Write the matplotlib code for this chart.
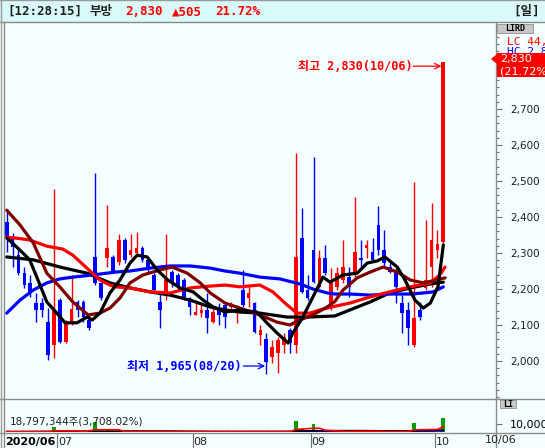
import matplotlib
matplotlib.use('Agg')
import matplotlib.pyplot as plt
import numpy as np
from matplotlib.patches import Rectangle, Polygon
from matplotlib.lines import Line2D
from matplotlib.ticker import FuncFormatter

W, H = 545, 448

# ---------------- data ----------------
opens = [2386, 2342, 2294, 2244, 2217, 2161, 2161, 2108, 2044, 2169,
         2053, 2105, 2164, 2164, 2114, 2289, 2217, 2286, 2289, 2275,
         2336, 2294, 2300, 2314, 2281, 2239, 2164, 2192, 2247, 2239,
         2225, 2175, 2128, 2133, 2142, 2108, 2142, 2156, 2150, 2133,
         2197, 2175, 2161, 2072, 2061, 2011, 2022, 2044, 2086, 2044,
         2342, 2197, 2308, 2206, 2286, 2150, 2206, 2225, 2233, 2244,
         2286, 2314, 2303, 2378, 2308, 2261, 2247, 2161, 2142, 2044,
         2142, 2203, 2261, 2308, 2330]
highs = [2414, 2356, 2317, 2261, 2239, 2189, 2175, 2147, 2478, 2175,
         2114, 2239, 2169, 2169, 2133, 2522, 2219, 2433, 2294, 2353,
         2342, 2353, 2358, 2319, 2286, 2244, 2189, 2353, 2253, 2244,
         2231, 2178, 2169, 2161, 2189, 2147, 2161, 2161, 2164, 2156,
         2253, 2211, 2164, 2100, 2078, 2058, 2067, 2078, 2092, 2578,
         2425, 2239, 2567, 2308, 2322, 2258, 2261, 2336, 2261, 2456,
         2336, 2336, 2342, 2431, 2364, 2275, 2258, 2183, 2164, 2497,
         2164, 2392, 2439, 2364, 2830]
lows = [2303, 2261, 2239, 2203, 2178, 2108, 2122, 2003, 2008, 2050,
        2050, 2100, 2122, 2108, 2086, 2211, 2169, 2261, 2244, 2267,
        2272, 2289, 2294, 2275, 2247, 2192, 2092, 2169, 2206, 2197,
        2169, 2128, 2128, 2122, 2078, 2106, 2100, 2092, 2136, 2106,
        2150, 2150, 2078, 2044, 1965, 1994, 1967, 2022, 2022, 2022,
        2189, 2169, 2217, 2203, 2239, 2142, 2197, 2217, 2178, 2233,
        2261, 2286, 2275, 2294, 2261, 2244, 2161, 2078, 2044, 2039,
        2114, 2197, 2206, 2286, 2320]
closes = [2347, 2317, 2244, 2211, 2189, 2142, 2142, 2017, 2142, 2053,
          2108, 2144, 2142, 2122, 2092, 2217, 2175, 2314, 2247, 2336,
          2281, 2308, 2314, 2281, 2253, 2197, 2142, 2231, 2217, 2206,
          2178, 2150, 2136, 2142, 2119, 2136, 2128, 2122, 2156, 2142,
          2156, 2189, 2081, 2086, 1997, 2039, 2058, 2067, 2050, 2289,
          2192, 2175, 2219, 2286, 2244, 2219, 2244, 2261, 2206, 2303,
          2281, 2322, 2281, 2308, 2272, 2247, 2206, 2133, 2092, 2119,
          2122, 2225, 2336, 2325, 2830]
# volume in millions of shares
volumes = [0.4, 0.3, 0.4, 0.3, 0.3, 0.5, 0.3, 0.8, 6.3, 0.9,
           0.5, 0.6, 0.3, 0.3, 0.4, 13.0, 1.2, 1.5, 0.6, 0.7,
           0.5, 0.4, 0.4, 0.3, 0.3, 0.4, 0.5, 0.8, 0.3, 0.3,
           0.3, 0.4, 0.3, 0.3, 0.5, 0.3, 0.3, 0.3, 0.2, 0.3,
           0.6, 0.4, 0.5, 0.4, 0.7, 0.5, 0.6, 0.4, 0.5, 14.0,
           3.5, 1.0, 10.0, 2.0, 0.8, 0.7, 0.5, 0.6, 0.5, 2.6,
           0.6, 0.5, 0.5, 0.8, 0.6, 0.4, 0.5, 0.6, 0.7, 11.8,
           1.5, 1.8, 4.0, 0.5, 18.8]

ma5_x = [0, 2.25, 3.9, 5.1, 6.8, 8.5, 9.9, 11.9, 13.6, 14.5, 15.8, 17.5, 19.2, 20.9,
         22.1, 23.8, 25.5, 27.3, 29.4, 31.6, 33.3, 35, 37, 39.5, 42.4, 44.1, 45.8,
         47.7, 48.5, 50.2, 51.9, 53.6, 54.8, 57, 59.4, 61.1, 62.8, 64.1, 66.2, 67.5,
         69.2, 70.6, 71.8, 73.1, 74]
ma5_y = [2342, 2308, 2281, 2233, 2164, 2133, 2106, 2106, 2122, 2114, 2133, 2189, 2225, 2272,
         2294, 2289, 2253, 2225, 2203, 2192, 2169, 2150, 2136, 2142, 2136, 2106, 2078,
         2050, 2078, 2122, 2178, 2233, 2219, 2239, 2244, 2272, 2278, 2289, 2261, 2225,
         2169, 2147, 2161, 2206, 2322]
ma10_x = [0, 2.25, 4.5, 6.8, 9, 11.2, 13.8, 15.8, 17.5, 19.2, 20.9, 23.1, 26, 28, 30.6,
          32.8, 34.5, 37, 39.5, 42.9, 45.8, 48, 49.7, 51.9, 54.3, 55.6, 57, 59.4, 61.6,
          63.8, 66.2, 68.4, 70.6, 72.9, 74.3]
ma10_y = [2419, 2378, 2328, 2244, 2206, 2164, 2128, 2133, 2147, 2175, 2217, 2239, 2253, 2261, 2244,
          2217, 2189, 2161, 2147, 2128, 2108, 2100, 2114, 2128, 2150, 2165, 2197, 2231, 2247,
          2261, 2247, 2225, 2217, 2225, 2231]
ma20_x = [0, 2.25, 3.9, 6.8, 9.5, 11.2, 13.6, 15.8, 17.5, 18.4, 20.9, 24.3, 27.7, 31.1, 34.5,
          37, 39.5, 42.9, 45.1, 47.5, 49.2, 51.4, 53.1, 55.6, 58.2, 61.6, 64.9, 68.4, 71.8,
          73.4, 74.3]
ma20_y = [2344, 2340, 2336, 2319, 2311, 2294, 2258, 2225, 2211, 2206, 2203, 2192, 2189, 2203, 2208,
          2211, 2206, 2211, 2192, 2156, 2133, 2133, 2142, 2152, 2161, 2178, 2192, 2206, 2217,
          2239, 2261]
ma60_x = [0, 2.25, 4.5, 6.8, 9, 11.2, 14.6, 17, 18.4, 20.9, 24.3, 27.7, 31.1, 34.5, 37, 39.5,
          42.9, 46.3, 49.7, 51.9, 54.3, 55.6, 58.2, 61.6, 64.9, 68.4, 70.6, 72.3, 74]
ma60_y = [2133, 2169, 2197, 2217, 2228, 2233, 2239, 2244, 2247, 2250, 2258, 2264, 2264, 2258, 2250, 2244,
          2233, 2228, 2214, 2200, 2189, 2186, 2186, 2183, 2186, 2186, 2189, 2192, 2206]
ma120_x = [0, 4.5, 9, 13.6, 17.5, 20.9, 24.3, 27.7, 31.1, 34.5, 37, 39.5, 42.9, 47.5, 50.9,
           55.6, 58.2, 61.6, 64.9, 68.4, 71.8, 74]
ma120_y = [2289, 2281, 2261, 2244, 2217, 2203, 2192, 2183, 2169, 2150, 2142, 2136, 2133, 2122, 2122,
           2125, 2142, 2164, 2189, 2203, 2214, 2219]

vma5_x = [0, 7, 8, 12, 13, 15, 19, 20, 48, 49, 52, 53, 54, 58, 59, 63, 64, 68, 69, 73, 74]
vma5_y = [0.4, 0.5, 1.6, 1.6, 0.4, 3.0, 3.0, 0.5, 0.5, 3.3, 5.0, 5.0, 2.3, 0.5, 1.0, 1.0, 0.5, 0.5, 2.8, 3.4, 6.9]
vma20_x = [0, 10, 15, 27, 35, 48, 49, 52, 60, 68, 69, 74]
vma20_y = [0.4, 0.7, 1.2, 1.2, 0.5, 0.5, 1.2, 1.7, 1.8, 1.2, 1.5, 2.5]
vma60_x = [0, 30, 48, 52, 74]
vma60_y = [0.4, 0.5, 0.6, 0.9, 1.3]
vma120_x = [0, 74]
vma120_y = [0.3, 0.6]

month_starts = [9, 32, 52, 73]
month_labels = ['07', '08', '09', '10']
first_label = '2020/06'
last_date = '10/06'

hi_idx, hi_price, hi_text = 74, 2830, '최고 2,830(10/06)'
lo_idx, lo_price, lo_text = 44, 1965, '최저 1,965(08/20)'

yticks_major = [2000, 2100, 2200, 2300, 2400, 2500, 2600, 2700]

# ---------------- helpers ----------------
def box(x0, y0, x1, y1):
    return [x0 / W, 1 - y1 / H, (x1 - x0) / W, (y1 - y0) / H]

def fx(x):
    return x / W

def fy(y):
    return 1 - y / H

MONO = ['DejaVu Sans Mono', 'Noto Sans CJK KR']
RED = '#ff0000'
BLUE = '#0000ff'
BG = '#f5fefe'

fig = plt.figure(figsize=(W / 100, H / 100), dpi=100, facecolor=BG)

n = len(opens)
idx = np.arange(n)
XL = (-0.288, 82.93)

# ---------------- main price panel ----------------
ax = fig.add_axes(box(5, 23, 496, 398))
ax.set_facecolor(BG)
ax.set_xlim(*XL)
ax.set_ylim(1897.2, 2938.9)
for s in ax.spines.values():
    s.set_visible(False)
ax.set_xticks([])

o = np.array(opens); c = np.array(closes); h = np.array(highs); l = np.array(lows)
cols = np.where(c >= o, RED, BLUE)
ax.vlines(idx, l, h, colors=cols, linewidth=1.0, zorder=2)
bottoms = np.minimum(o, c)
heights = np.maximum(np.abs(c - o), 3)
ax.bar(idx, heights, bottom=bottoms, width=0.64, color=cols, linewidth=0, zorder=3)

ax.plot(ma120_x, ma120_y, color='black', lw=2.3, zorder=4, solid_capstyle='round')
ax.plot(ma60_x, ma60_y, color=BLUE, lw=2.3, zorder=4, solid_capstyle='round')
ax.plot(ma20_x, ma20_y, color=RED, lw=2.3, zorder=4, solid_capstyle='round')
ax.plot(ma10_x, ma10_y, color='#800000', lw=2.3, zorder=5, solid_capstyle='round')
ax.plot(ma5_x, ma5_y, color='black', lw=2.3, zorder=6, solid_capstyle='round')

ax.yaxis.tick_right()
ax.set_yticks(yticks_major)
ax.set_yticks(np.arange(1900, 2940, 20), minor=True)
ax.yaxis.set_major_formatter(FuncFormatter(lambda v, _: f'{int(v):,}'))
ax.tick_params(axis='y', which='major', length=4, width=0.8, color='#707070',
               labelsize=8, pad=6, labelcolor='#202020')
ax.tick_params(axis='y', which='minor', length=2, width=0.8, color='#707070')
for t in ax.get_yticklabels():
    t.set_family('DejaVu Sans')
    t.set_fontsize(7.5)

# annotations
ya = hi_price - 11
ax.text(hi_idx - 5.2, ya, hi_text, color=RED, fontsize=8.6, fontweight='bold',
        family=MONO, ha='right', va='center', zorder=8)
ax.annotate('', xy=(hi_idx - 0.3, ya), xytext=(hi_idx - 5.1, ya),
            arrowprops=dict(arrowstyle='->', color=RED, lw=0.9, shrinkA=0, shrinkB=0), zorder=8)
yl = lo_price + 21
ax.text(lo_idx - 4.1, yl, lo_text, color=BLUE, fontsize=8.6, fontweight='bold',
        family=MONO, ha='right', va='center', zorder=8)
ax.annotate('', xy=(lo_idx - 0.2, yl), xytext=(lo_idx - 3.9, yl),
            arrowprops=dict(arrowstyle='->', color=BLUE, lw=0.9, shrinkA=0, shrinkB=0), zorder=8)

# ---------------- volume panel ----------------
vx = fig.add_axes(box(5, 399, 496, 432))
vx.set_facecolor(BG)
vx.set_xlim(*XL)
vx.set_ylim(0, 43.4)
for s in vx.spines.values():
    s.set_visible(False)
vx.set_xticks([])
vx.bar(idx, volumes, width=0.64, color='#00a000', linewidth=0, zorder=3)
vx.plot(vma120_x, vma120_y, color='#00a000', lw=1.2, ls=(0, (2, 2)), zorder=4)
vx.plot(vma60_x, vma60_y, color=BLUE, lw=1.2, zorder=4)
vx.plot(vma20_x, vma20_y, color='black', lw=1.2, zorder=4)
vx.plot(vma5_x, vma5_y, color=RED, lw=1.2, zorder=5)
vx.yaxis.tick_right()
vx.set_yticks([10])
vx.set_yticklabels(['10,000만'])
vx.tick_params(axis='y', length=4, width=0.8, color='#707070', labelsize=8, pad=6)
for t in vx.get_yticklabels():
    t.set_family(['DejaVu Sans', 'Noto Sans CJK KR'])
vx.text(0.01, 0.16, '18,797,344주(3,708.02%)', transform=vx.transAxes, fontsize=7.5,
        family=['DejaVu Sans', 'Noto Sans CJK KR'], color='#202020', va='bottom', zorder=6)

# ---------------- date strip ----------------
dx = fig.add_axes(box(5, 433, 496, 448))
dx.set_facecolor(BG)
dx.set_xlim(*XL)
dx.set_ylim(0, 1)
dx.axis('off')
for m, lab in zip(month_starts, month_labels):
    dx.axvline(m - 0.45, color='#707070', lw=0.8)
    dx.text(m - 0.3, 0.42, lab, fontsize=8, family='DejaVu Sans', va='center', ha='left', color='#202020')
dx.text(0.0, 0.42, first_label, fontsize=8, fontweight='bold', family='DejaVu Sans',
        va='center', ha='left', color='black', transform=dx.transAxes)
fig.text(fx(485), fy(440), last_date, fontsize=8, family='DejaVu Sans', va='center', color='#202020')

# ---------------- frame ----------------
fig.patches.append(Rectangle((0, fy(22)), 1, 22 / H, transform=fig.transFigure,
                             facecolor='#dafafa', edgecolor='none', zorder=1))
def hline(y, x0=0, x1=W, c='#8a8a8a', lw=1.0):
    fig.lines.append(Line2D([fx(x0), fx(x1)], [fy(y), fy(y)], transform=fig.transFigure, color=c, lw=lw, zorder=2))
def vline(x, y0=0, y1=H, c='#8a8a8a', lw=1.0):
    fig.lines.append(Line2D([fx(x), fx(x)], [fy(y0), fy(y1)], transform=fig.transFigure, color=c, lw=lw, zorder=2))
hline(0.5, c='#9a9a9a')
hline(22)
hline(398.5)
hline(432.5)
vline(0.5, 0, H, c='#9a9a9a')
vline(4, 22, H)
vline(496, 22, H)

# title texts
ty = 11.5
fig.text(fx(7), fy(ty), '[12:28:15]', family=MONO, fontsize=9, fontweight='bold', color='#202020', va='center')
fig.text(fx(90), fy(ty), '부방', family=MONO, fontsize=9, fontweight='bold', color='#202020', va='center')
fig.text(fx(125), fy(ty), '2,830', family=MONO, fontsize=9, fontweight='bold', color=RED, va='center')
fig.text(fx(172), fy(ty), '▲505', family=MONO, fontsize=9, fontweight='bold', color=RED, va='center')
fig.text(fx(215), fy(ty), '21.72%', family=MONO, fontsize=9, fontweight='bold', color=RED, va='center')
fig.text(fx(540), fy(ty), '[일]', family=MONO, fontsize=9, fontweight='bold', color='#202020', va='center', ha='right')

# right side widgets
fig.patches.append(Rectangle((fx(497), fy(33)), 36 / W, 9 / H, transform=fig.transFigure,
                             facecolor='#c8c8c8', edgecolor='#909090', lw=0.6, zorder=3))
fig.text(fx(515), fy(28.5), 'LIRD', family='DejaVu Sans Mono', fontsize=6, fontweight='bold',
         color='black', va='center', ha='center', zorder=4)
fig.text(fx(507), fy(42), 'LC 44,', family='DejaVu Sans Mono', fontsize=8, color=RED, va='center', zorder=3)
fig.text(fx(507), fy(52), 'HC 2,8', family='DejaVu Sans Mono', fontsize=8, color=BLUE, va='center', zorder=3)
fig.patches.append(Rectangle((fx(497), fy(77)), 48 / W, 24 / H, transform=fig.transFigure,
                             facecolor=RED, edgecolor='none', zorder=5))
fig.patches.append(Polygon([[fx(491), fy(59)], [fx(497), fy(54)], [fx(497), fy(64)]],
                           closed=True, transform=fig.transFigure, facecolor=RED, edgecolor='none', zorder=5))
fig.text(fx(500), fy(59), '2,830', family='DejaVu Sans', fontsize=8, color='white', va='center', zorder=6)
fig.text(fx(500), fy(71.5), '(21.72%', family='DejaVu Sans', fontsize=8, color='white', va='center', zorder=6)
fig.patches.append(Rectangle((fx(500), fy(408)), 16 / W, 8 / H, transform=fig.transFigure,
                             facecolor='#c8c8c8', edgecolor='#909090', lw=0.6, zorder=3))
fig.text(fx(508), fy(404), 'LI', family='DejaVu Sans Mono', fontsize=6, fontweight='bold',
         color='black', va='center', ha='center', zorder=4)

fig.savefig('out.png', dpi=100, facecolor=BG)
